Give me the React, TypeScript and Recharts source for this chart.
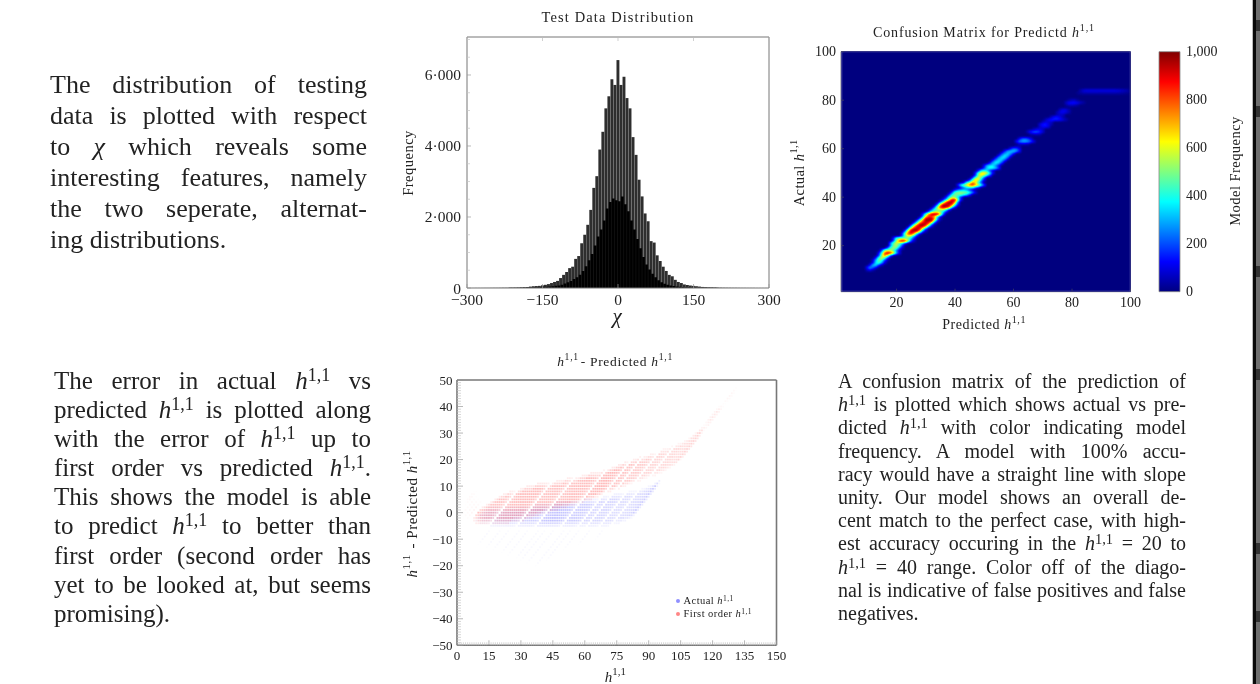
import React from 'react';
import { Bar, BarChart, Legend, Scatter, ScatterChart, XAxis, YAxis } from 'recharts';

// ---- histogram: chi bins, two alternating distributions
const chiBins = [
  -300, -294, -288, -282, -276, -270, -264, -258, -252, -246, -240, -234, -228, -222, -216, -210, -204,
  -198, -192, -186, -180, -174, -168, -162, -156, -150, -144, -138, -132, -126, -120, -114, -108, -102,
  -96, -90, -84, -78, -72, -66, -60, -54, -48, -42, -36, -30, -24, -18, -12, -6, 0,
  6, 12, 18, 24, 30, 36, 42, 48, 54, 60, 66, 72, 78, 84, 90, 96, 102,
  108, 114, 120, 126, 132, 138, 144, 150, 156, 162, 168, 174, 180, 186, 192, 198, 204,
  210, 216, 222, 228, 234, 240, 246, 252, 258, 264, 270, 276, 282, 288, 294, 300,
];
const tallCounts = [
  1, 1, 1, 2, 2, 2, 3, 3, 4, 5, 5, 6, 8, 8, 10, 10, 12,
  15, 20, 25, 30, 40, 50, 55, 60, 75, 90, 110, 140, 170, 200, 280, 370, 450,
  560, 600, 820, 900, 1260, 1500, 1780, 2200, 2820, 3150, 3900, 4400, 5060, 5400, 5880, 5720, 6420,
  5720, 5950, 5350, 5060, 4250, 3750, 3050, 2580, 2100, 1880, 1320, 1280, 920, 760, 600, 480, 370,
  330, 230, 170, 140, 100, 85, 70, 60, 50, 40, 30, 25, 20, 18, 15, 12, 10,
  8, 7, 6, 5, 5, 4, 3, 3, 2, 2, 2, 1, 1, 1, 1, 1,
];
const chiShortBins = [
  -297, -291, -285, -279, -273, -267, -261, -255, -249, -243, -237, -231, -225, -219, -213, -207, -201,
  -195, -189, -183, -177, -171, -165, -159, -153, -147, -141, -135, -129, -123, -117, -111, -105, -99,
  -93, -87, -81, -75, -69, -63, -57, -51, -45, -39, -33, -27, -21, -15, -9, -3, 3,
  9, 15, 21, 27, 33, 39, 45, 51, 57, 63, 69, 75, 81, 87, 93, 99, 105,
  111, 117, 123, 129, 135, 141, 147, 153, 159, 165, 171, 177, 183, 189, 195, 201, 207,
  213, 219, 225, 231, 237, 243, 249, 255, 261, 267, 273, 279, 285, 291, 297, 303,
];
const shortCounts = [
  0, 0, 0, 1, 1, 1, 1, 1, 2, 2, 2, 3, 3, 3, 4, 4, 5,
  6, 8, 10, 12, 15, 18, 22, 28, 32, 38, 45, 52, 60, 72, 95, 125, 165,
  200, 250, 300, 370, 480, 610, 780, 960, 1200, 1450, 1650, 1900, 2240, 2420, 2520, 2470, 2440,
  2580, 2360, 2160, 1900, 1650, 1380, 1120, 870, 660, 520, 400, 300, 220, 165, 120, 90, 72,
  55, 45, 36, 28, 22, 18, 14, 12, 10, 8, 7, 6, 5, 4, 4, 3, 3,
  3, 2, 2, 2, 1, 1, 1, 1, 1, 1, 0, 0, 0, 0, 0, 0,
];
const chiTicks = [-300, -150, 0, 150, 300];
const freqTicks = [0, 500, 1000, 1500, 2000, 2500, 3000, 3500, 4000, 4500, 5000, 5500, 6000, 6500, 7000];
const freqLabels: Record<number, string> = { 0: '0', 2000: '2·000', 4000: '4·000', 6000: '6·000' };

// ---- confusion matrix: one row per actual value, frequencies from heatStart[i] predicted upwards
const heatActual = [
  10, 11, 12, 13, 14, 15, 16, 17, 18, 19, 20, 21, 22, 23, 24, 25, 26, 27, 28, 29, 30, 31, 32, 33, 34, 35,
  36, 37, 38, 39, 40, 41, 42, 43, 44, 45, 46, 47, 48, 49, 50, 51, 52, 53, 54, 55, 56, 57, 58, 59, 60, 61,
  62, 63, 64, 66, 67, 68, 69, 70, 71, 72, 73, 74, 75, 76, 78, 79, 80, 83, 84,
];
const heatStart = [
  10, 10, 11, 12, 12, 13, 14, 14, 15, 17, 18, 18, 19, 19, 22, 22, 23, 24, 25, 26, 27, 28, 29, 29, 31, 32,
  33, 34, 35, 36, 37, 38, 39, 40, 42, 41, 43, 45, 46, 47, 47, 48, 50, 50, 52, 53, 54, 55, 56, 57, 59, 61,
  62, 61, 62, 66, 65, 67, 69, 69, 70, 71, 73, 75, 75, 76, 78, 78, 79, 82, 83,
];
const heatValues = [
  [80, 120, 50], [150, 300, 230, 110], [130, 340, 370, 190, 60], [130, 380, 470, 300, 100],
  [100, 340, 520, 440, 190, 60], [150, 460, 640, 470, 170], [190, 560, 800, 600, 210],
  [130, 440, 860, 1000, 940, 690, 340, 120], [210, 540, 660, 600, 470, 240, 90], [230, 470, 540, 460, 220, 70],
  [260, 500, 560, 420, 160], [280, 520, 600, 500, 340, 140], [200, 540, 840, 1000, 950, 600, 240, 80],
  [170, 440, 540, 560, 520, 490, 340, 140], [190, 460, 600, 560, 340, 130], [170, 560, 880, 940, 780, 380, 120],
  [240, 700, 1000, 1000, 980, 660, 260, 70], [280, 780, 1000, 1000, 960, 580, 200],
  [310, 720, 980, 1000, 1000, 780, 340, 110], [290, 640, 960, 1000, 1000, 800, 320, 90],
  [270, 640, 900, 1000, 1000, 880, 360, 100], [250, 620, 980, 1000, 1000, 780, 300, 70],
  [270, 720, 900, 860, 700, 340, 100], [150, 440, 780, 960, 1000, 1000, 660, 220],
  [200, 460, 560, 540, 500, 340, 150], [190, 420, 540, 560, 620, 430, 170],
  [170, 540, 900, 1000, 1000, 900, 460, 160], [210, 680, 1000, 1000, 1000, 900, 480, 160],
  [180, 460, 840, 1000, 1000, 780, 260], [140, 360, 660, 980, 1000, 580, 170], [140, 400, 540, 520, 380, 160],
  [160, 440, 520, 500, 480, 420, 320, 160], [190, 500, 560, 580, 540, 520, 440, 290, 110],
  [130, 240, 300, 340, 280, 160, 80], [110, 220, 340, 380, 360, 240, 130],
  [140, 400, 560, 660, 800, 860, 740, 600, 420, 190], [110, 380, 600, 800, 680, 400, 180],
  [160, 480, 700, 580, 300, 110], [170, 500, 640, 460, 180], [180, 520, 640, 520, 340, 180],
  [140, 440, 660, 700, 600, 380, 140], [130, 340, 420, 360, 190, 80], [170, 350, 420, 410, 350, 190],
  [130, 310, 400, 390, 260, 120], [170, 340, 400, 320, 160], [180, 340, 390, 310, 150], [170, 330, 390, 330, 170],
  [160, 310, 380, 310, 150], [170, 310, 360, 290, 150], [140, 270, 330, 340, 290, 150], [120, 220, 230, 130],
  [50, 50], [60, 80, 80, 60], [130, 250, 310, 320, 290, 220, 100], [120, 230, 250, 210, 120], [50, 60, 70, 60],
  [80, 170, 240, 240, 180, 100], [60, 100, 110, 70], [70, 110, 120, 90], [90, 160, 170, 110, 50], [60, 100, 90, 70],
  [60, 120, 160, 170, 160, 140, 100, 50], [80, 140, 150, 110, 50], [60, 70, 60], [60, 110, 120, 100, 50],
  [70, 110, 100, 50], [30, 70, 70, 60, 30], [70, 130, 150, 150, 120, 70, 40], [40, 70, 70, 30],
  [25, 40, 50, 50, 50, 50, 50, 50, 50, 50, 50, 50, 50, 50, 50, 40, 30, 25],
  [50, 90, 105, 105, 105, 105, 105, 105, 105, 105, 105, 105, 105, 95, 80, 65, 50],
];
const heatTicks = [20, 40, 60, 80, 100];
const barTicks = [0, 200, 400, 600, 800, 1000];

// ---- error plot: runs of [predicted, error from, error to, density] on the integer grid
const actualRuns = [
  [12, -3, 1, 0.2], [13, -3, 2, 0.2], [14, -3, 2, 0.22], [15, -4, 2, 0.24], [16, -4, 2, 0.24], [17, -4, 2, 0.24], [18, -4, 2, 0.22], [19, -4, 2, 0.16],
  [21, -5, 2, 0.28], [22, -5, 2, 0.3], [23, -5, 2, 0.3], [24, -5, 2, 0.32], [25, -5, 2, 0.32], [26, -5, 2, 0.32], [27, -5, 2, 0.32], [28, -5, 2, 0.34], [29, -5, 2, 0.34], [30, -5, 2, 0.34], [31, -5, 2, 0.32], [32, -5, 2, 0.24],
  [34, -5, 3, 0.36], [35, -5, 3, 0.38], [36, -5, 3, 0.4], [37, -5, 3, 0.4], [38, -5, 3, 0.42], [39, -5, 3, 0.42], [40, -5, 3, 0.4], [41, -5, 3, 0.3],
  [43, -5, 4, 0.46], [44, -5, 4, 0.5], [45, -5, 4, 0.52], [46, -5, 4, 0.52], [47, -5, 4, 0.54], [48, -5, 4, 0.54], [49, -5, 4, 0.52], [50, -5, 4, 0.52], [51, -5, 4, 0.5], [52, -5, 4, 0.46], [53, -5, 4, 0.34],
  [55, -5, 5, 0.42], [56, -5, 5, 0.44], [57, -5, 5, 0.44], [58, -5, 5, 0.44], [59, -5, 5, 0.42], [60, -5, 5, 0.4], [61, -5, 5, 0.3],
  [63, -5, 6, 0.36], [64, -5, 6, 0.36], [65, -5, 6, 0.3], [67, -5, 7, 0.36], [68, -5, 7, 0.36], [69, -5, 7, 0.36], [70, -5, 7, 0.34], [71, -5, 7, 0.26],
  [73, -5, 8, 0.3], [74, -5, 8, 0.3], [75, -5, 8, 0.3], [76, -5, 8, 0.24], [78, -4, 9, 0.28], [79, -4, 9, 0.3], [80, -4, 10, 0.3],
  [81, -3, 10, 0.32], [82, -3, 11, 0.36], [83, -2, 12, 0.44], [84, -2, 11, 0.2],
  [22, -12, -6, 0.05], [27, -13, -6, 0.05], [31, -14, -6, 0.05], [36, -15, -6, 0.05], [40, -16, -6, 0.05], [45, -17, -6, 0.05], [48, -18, -6, 0.05], [52, -19, -6, 0.05], [57, -20, -6, 0.05], [60, -18, -6, 0.05], [64, -14, -6, 0.05], [69, -12, -6, 0.05], [75, -10, -6, 0.05],
];
const firstOrderRuns = [
  [0, 4, 8, 0.05], [1, 3, 8, 0.05], [3, -1, 6, 0.04], [5, -2, 5, 0.05], [7, -2, 4, 0.08],
  [10, -2, 2, 0.5], [11, -3, 3, 0.42], [12, -3, 4, 0.42], [13, -4, 5, 0.44], [14, -4, 6, 0.46], [15, -4, 7, 0.48], [16, -4, 7, 0.48], [17, -4, 8, 0.48], [18, -4, 8, 0.42], [19, -4, 8, 0.3],
  [21, -4, 9, 0.42], [22, -4, 9, 0.5], [23, -4, 10, 0.52], [24, -4, 10, 0.52], [25, -4, 10, 0.52], [26, -4, 10, 0.52], [27, -4, 11, 0.54], [28, -4, 11, 0.54], [29, -3, 11, 0.54], [30, -3, 11, 0.54], [31, -3, 11, 0.5], [32, -3, 11, 0.34],
  [34, -3, 11, 0.46], [35, -2, 12, 0.48], [36, -2, 12, 0.48], [37, -2, 12, 0.5], [38, -1, 12, 0.5], [39, -1, 13, 0.5], [40, 0, 13, 0.46], [41, 0, 13, 0.34],
  [43, 0, 13, 0.46], [44, 1, 13, 0.48], [45, 1, 14, 0.5], [46, 1, 14, 0.5], [47, 2, 14, 0.52], [48, 2, 15, 0.52], [49, 2, 15, 0.52], [50, 3, 15, 0.52], [51, 3, 15, 0.5], [52, 3, 15, 0.46], [53, 4, 16, 0.34],
  [55, 4, 16, 0.52], [56, 5, 17, 0.54], [57, 5, 17, 0.56], [58, 5, 18, 0.56], [59, 6, 18, 0.54], [60, 6, 19, 0.5], [61, 7, 19, 0.36],
  [63, 8, 20, 0.46], [64, 8, 20, 0.46], [65, 9, 21, 0.36], [67, 9, 21, 0.4], [68, 10, 21, 0.4], [69, 10, 22, 0.4], [70, 11, 22, 0.38], [71, 11, 22, 0.28],
  [73, 12, 24, 0.32], [74, 12, 24, 0.32], [75, 13, 24, 0.32], [76, 13, 25, 0.24], [78, 14, 26, 0.28], [79, 14, 26, 0.3], [80, 15, 27, 0.3],
  [81, 15, 28, 0.26], [82, 16, 30, 0.26], [83, 17, 32, 0.28], [84, 18, 32, 0.34], [85, 20, 30, 0.22],
  [83, 33, 40, 0.1], [84, 33, 40, 0.18], [84, 41, 47, 0.07], [85, 31, 40, 0.1], [85, 41, 46, 0.04],
];
const errorXLabels = [0, 15, 30, 45, 60, 75, 90, 105, 120, 135, 150];
const errorYLabels = [-50, -40, -30, -20, -10, 0, 10, 20, 30, 40, 50];
const errorXTicks = [
  0, 1, 2, 3, 4, 5, 6, 7, 8, 9, 10, 11, 12, 13, 14, 15, 16, 17, 18, 19, 20, 21, 22, 23, 24, 25, 26, 27, 28, 29,
  30, 31, 32, 33, 34, 35, 36, 37, 38, 39, 40, 41, 42, 43, 44, 45, 46, 47, 48, 49, 50, 51, 52, 53, 54, 55, 56, 57, 58, 59,
  60, 61, 62, 63, 64, 65, 66, 67, 68, 69, 70, 71, 72, 73, 74, 75, 76, 77, 78, 79, 80, 81, 82, 83, 84, 85, 86, 87, 88, 89,
  90, 91, 92, 93, 94, 95, 96, 97, 98, 99, 100, 101, 102, 103, 104, 105, 106, 107, 108, 109, 110, 111, 112, 113, 114, 115, 116, 117, 118, 119,
  120, 121, 122, 123, 124, 125, 126, 127, 128, 129, 130, 131, 132, 133, 134, 135, 136, 137, 138, 139, 140, 141, 142, 143, 144, 145, 146, 147, 148, 149, 150,
];
const errorYTicks = [
  -50, -49, -48, -47, -46, -45, -44, -43, -42, -41, -40, -39, -38, -37, -36, -35, -34, -33, -32, -31, -30, -29, -28, -27, -26, -25, -24, -23, -22, -21,
  -20, -19, -18, -17, -16, -15, -14, -13, -12, -11, -10, -9, -8, -7, -6, -5, -4, -3, -2, -1, 0, 1, 2, 3, 4, 5, 6, 7, 8, 9,
  10, 11, 12, 13, 14, 15, 16, 17, 18, 19, 20, 21, 22, 23, 24, 25, 26, 27, 28, 29, 30, 31, 32, 33, 34, 35, 36, 37, 38, 39,
  40, 41, 42, 43, 44, 45, 46, 47, 48, 49, 50,
];
const stripBands = [20, 106, 266, 369, 543, 611];

const histRows = chiBins.map((chi, i) => ({
  chi,
  tall: tallCounts[i],
  chiShort: chiShortBins[i],
  short: shortCounts[i],
}));

const heatCells = heatActual.flatMap((actual, i) =>
  heatValues[i].map((value, j) => ({ predicted: heatStart[i] + j, actual, value })),
);

// a run covers every integer error between its ends, thinning out towards them
const expandRuns = (runs: number[][]) =>
  runs.flatMap(([predicted, from, to, density]) => {
    const points = [];
    for (let error = from; error <= to; error++) {
      const edge = Math.min((error - from + 1) / 3, (to - error + 1) / 3, 1);
      points.push({ h11: predicted + error, error, density: density * edge });
    }
    return points;
  });

const SERIF = "'Liberation Serif', serif";
const TEXT = '#222';

type Side = 'left' | 'right' | 'top' | 'bottom';

// axis tick drawn inwards, label only where labelOf gives one
const makeTick =
  (side: Side, size: number, gap: number, labelOf: (v: number) => string | null, isMajor: (v: number) => boolean, majorLen: number, minorLen: number, stroke: string, minorStroke = '#c4c4c4') =>
  (props: any) => {
    const { x, y, payload } = props;
    const label = labelOf(payload.value);
    const major = isMajor(payload.value);
    const len = major ? majorLen : minorLen;
    const line =
      side === 'left' ? [x, y, x + len, y] :
      side === 'right' ? [x - len, y, x, y] :
      side === 'bottom' ? [x, y - len, x, y] : [x, y, x, y + len];
    return (
      <g>
        <line x1={line[0]} y1={line[1]} x2={line[2]} y2={line[3]} stroke={major ? stroke : minorStroke} strokeWidth={0.7} />
        {label !== null && side === 'left' && (
          <text x={x - gap} y={y} textAnchor="end" dominantBaseline="central" fontSize={size} fontFamily={SERIF} fill={TEXT}>{label}</text>
        )}
        {label !== null && side === 'bottom' && (
          <text x={x} y={y + gap} textAnchor="middle" dominantBaseline="central" fontSize={size} fontFamily={SERIF} fill={TEXT}>{label}</text>
        )}
      </g>
    );
  };

const noLabel = () => null;
const always = () => true;
const signed = (v: number) => (v < 0 ? `−${-v}` : `${v}`);
const isFreqMajor = (v: number) => v in freqLabels;
const isErrorXMajor = (v: number) => errorXLabels.includes(v);
const isErrorYMajor = (v: number) => errorYLabels.includes(v);

// chart text, optional h^{1,1} pieces around the plain part
const ChartText = ({ x, y, size, rotate, text, math = false, mathFirst = false, spacing = 0 }: any) => {
  const sup = (
    <>
      <tspan fontStyle="italic">h</tspan>
      <tspan dy={-size * 0.38} fontSize={size * 0.72}>1,1</tspan>
      <tspan dy={size * 0.38}>{'\u200a'}</tspan>
    </>
  );
  return (
    <text
      x={x}
      y={y}
      textAnchor="middle"
      dominantBaseline="central"
      fontSize={size}
      fontFamily={SERIF}
      fill={TEXT}
      letterSpacing={spacing}
      transform={rotate ? `rotate(${rotate} ${x} ${y})` : undefined}
    >
      {mathFirst && sup}
      <tspan>{text}</tspan>
      {math && sup}
    </text>
  );
};

const HistogramChart = () => (
  <div style={{ position: 'absolute', left: 400, top: 0 }}>
    <BarChart width={395} height={335} data={histRows} margin={{ top: 0, right: 0, bottom: 0, left: 0 }}>
      <XAxis
        xAxisId="tall" dataKey="chi" type="number" domain={[-300, 300]} ticks={chiTicks} interval={0} height={47}
        tickSize={0} tickMargin={0} tickLine={false} axisLine={{ stroke: '#777', strokeWidth: 1 }}
        tick={makeTick('bottom', 15.5, 11, signed, always, 4, 4, '#999')}
      />
      <XAxis xAxisId="short" dataKey="chiShort" type="number" domain={[-300, 300]} allowDataOverflow height={0} hide />
      <XAxis
        xAxisId="top" dataKey="chi" type="number" orientation="top" domain={[-300, 300]} ticks={chiTicks} interval={0} height={37}
        tickSize={0} tickMargin={0} tickLine={false} axisLine={{ stroke: '#777', strokeWidth: 1 }}
        tick={makeTick('top', 15, 0, noLabel, always, 4, 4, '#bbb')}
      />
      <YAxis
        yAxisId="left" type="number" domain={[0, 7070]} ticks={freqTicks} interval={0} width={67}
        tickSize={0} tickMargin={0} tickLine={false} axisLine={{ stroke: '#777', strokeWidth: 1 }}
        tick={makeTick('left', 15.5, 6, (v) => freqLabels[v] ?? null, isFreqMajor, 4, 3, '#999')}
      />
      <YAxis
        yAxisId="right" type="number" orientation="right" domain={[0, 7070]} ticks={freqTicks} interval={0} width={26}
        tickSize={0} tickMargin={0} tickLine={false} axisLine={{ stroke: '#777', strokeWidth: 1 }}
        tick={makeTick('right', 15, 0, noLabel, isFreqMajor, 4, 3, '#bbb')}
      />
      <Bar xAxisId="tall" yAxisId="left" dataKey="tall" barSize={2.9} fill="#2e2e2e" isAnimationActive={false} />
      <Bar xAxisId="short" yAxisId="left" dataKey="short" barSize={4} fill="#000" isAnimationActive={false} />
      <ChartText x={218} y={17} size={14.5} text="Test Data Distribution" spacing={1.1} />
      <ChartText x={8} y={163} size={14.5} rotate={-90} text="Frequency" spacing={0.5} />
      <text x={217} y={316} textAnchor="middle" dominantBaseline="central" fontSize={21} fontStyle="italic" fontFamily={SERIF} fill={TEXT}>χ</text>
    </BarChart>
  </div>
);

const HeatmapChart = () => (
  <div className="heat-map" style={{ position: 'absolute', left: 790, top: 15 }}>
    <ScatterChart width={360} height={320} margin={{ top: 0, right: 0, bottom: 0, left: 0 }}>
      <XAxis
        xAxisId="bottom" dataKey="predicted" type="number" domain={[1, 100]} ticks={heatTicks} interval={0} height={43.3}
        tickSize={0} tickMargin={0} tickLine={false} axisLine={{ stroke: '#888', strokeWidth: 1 }}
        tick={makeTick('bottom', 14, 10.5, (v) => `${v}`, always, 3, 3, '#446')}
      />
      <XAxis
        xAxisId="top" type="number" orientation="top" domain={[1, 100]} ticks={heatTicks} interval={0} height={36.7}
        tickSize={0} tickMargin={0} tickLine={false} axisLine={{ stroke: '#888', strokeWidth: 1 }}
        tick={makeTick('top', 14, 0, noLabel, always, 3, 3, '#446')}
      />
      <YAxis
        yAxisId="left" dataKey="actual" type="number" domain={[1, 100]} ticks={heatTicks} interval={0} width={51}
        tickSize={0} tickMargin={0} tickLine={false} axisLine={{ stroke: '#888', strokeWidth: 1 }}
        tick={makeTick('left', 14, 5, (v) => `${v}`, always, 3, 3, '#446')}
      />
      <YAxis
        yAxisId="right" type="number" orientation="right" domain={[1, 100]} ticks={heatTicks} interval={0} width={19.5}
        tickSize={0} tickMargin={0} tickLine={false} axisLine={{ stroke: '#888', strokeWidth: 1 }}
        tick={makeTick('right', 14, 0, noLabel, always, 3, 3, '#446')}
      />
      <Scatter
        xAxisId="bottom"
        yAxisId="left"
        data={heatCells}
        isAnimationActive={false}
        shape={(p: any) => {
          const level = Math.round((p.payload.value / 1000) * 255);
          return <rect x={p.cx - 1.6} y={p.cy - 1.35} width={3.2} height={2.7} fill={`rgb(${level},${level},${level})`} />;
        }}
      />
      <ChartText x={195} y={17} size={14} text="Confusion Matrix for Predictd " math spacing={0.85} />
      <ChartText x={9} y={157} size={14.5} rotate={-90} text="Actual " math spacing={0.4} />
      <ChartText x={195} y={309} size={14} text="Predicted " math spacing={0.55} />
    </ScatterChart>
  </div>
);

const ColorBar = () => (
  <div style={{ position: 'absolute', left: 1140, top: 40 }}>
    <BarChart width={110} height={260} data={[{ name: 'frequency', top: 1000 }]} barCategoryGap={0} margin={{ top: 11.7, right: 0, bottom: 8.3, left: 19 }}>
      <defs>
        <linearGradient id="jetBar" x1="0" y1="1" x2="0" y2="0">
          <stop offset="0" stopColor="#000080" />
          <stop offset="0.125" stopColor="#0000ff" />
          <stop offset="0.375" stopColor="#00ffff" />
          <stop offset="0.625" stopColor="#ffff00" />
          <stop offset="0.875" stopColor="#ff0000" />
          <stop offset="1" stopColor="#800000" />
        </linearGradient>
      </defs>
      <XAxis dataKey="name" hide />
      <YAxis
        type="number" orientation="right" domain={[0, 1000]} ticks={barTicks} interval={0} width={70}
        tickSize={0} tickMargin={0} tickLine={false} axisLine={false}
        tick={(p: any) => (
          <text x={p.x + 6} y={p.y} dominantBaseline="central" fontSize={14} fontFamily={SERIF} fill={TEXT}>
            {p.payload.value === 1000 ? '1,000' : p.payload.value}
          </text>
        )}
      />
      <Bar dataKey="top" fill="url(#jetBar)" stroke="#888" strokeWidth={0.8} isAnimationActive={false} />
      <ChartText x={95} y={131} size={14.5} rotate={-90} text="Model Frequency" spacing={0.45} />
    </BarChart>
  </div>
);

const ErrorLegend = ({ payload }: any) => (
  <div style={{ fontFamily: SERIF, fontSize: 10.5, color: TEXT, letterSpacing: 0.45, lineHeight: '13px', whiteSpace: 'nowrap' }}>
    {(payload ?? []).map((entry: any) => (
      <div key={entry.value}>
        <span style={{ display: 'inline-block', width: 3.5, height: 3.5, borderRadius: 2, background: entry.color, opacity: 0.6, marginRight: 4, verticalAlign: 1.5 }} />
        {entry.value} <H11 />
      </div>
    ))}
  </div>
);

const dotShape = (fill: string) => (p: any) => (
  <rect x={p.cx - 0.9} y={p.cy - 0.9} width={1.8} height={1.8} fill={fill} fillOpacity={p.payload.density * 0.55} />
);

const ErrorChart = () => (
  <div style={{ position: 'absolute', left: 400, top: 345 }}>
    <ScatterChart width={395} height={339} margin={{ top: 0, right: 0, bottom: 0, left: 0 }}>
      <XAxis
        xAxisId="bottom" dataKey="h11" type="number" domain={[0, 150]} ticks={errorXTicks} interval={0} height={38.7}
        tickSize={0} tickMargin={0} tickLine={false} axisLine={{ stroke: '#777', strokeWidth: 1.6 }}
        tick={makeTick('bottom', 13, 10.5, (v) => (isErrorXMajor(v) ? `${v}` : null), isErrorXMajor, 5, 3, '#999')}
      />
      <XAxis
        xAxisId="top" type="number" orientation="top" domain={[0, 150]} ticks={errorXTicks} interval={0} height={35}
        tickSize={0} tickMargin={0} tickLine={false} axisLine={{ stroke: '#777', strokeWidth: 1.6 }}
        tick={makeTick('top', 13, 0, noLabel, isErrorXMajor, 5, 3, '#aaa')}
      />
      <YAxis
        yAxisId="left" dataKey="error" type="number" domain={[-50, 50]} ticks={errorYTicks} interval={0} width={57}
        tickSize={0} tickMargin={0} tickLine={false} axisLine={{ stroke: '#777', strokeWidth: 1.6 }}
        tick={makeTick('left', 13, 4.5, (v) => (isErrorYMajor(v) ? signed(v) : null), isErrorYMajor, 6, 4, '#999')}
      />
      <YAxis
        yAxisId="right" type="number" orientation="right" domain={[-50, 50]} ticks={errorYTicks} interval={0} width={18.5}
        tickSize={0} tickMargin={0} tickLine={false} axisLine={{ stroke: '#777', strokeWidth: 1.6 }}
        tick={makeTick('right', 13, 0, noLabel, isErrorYMajor, 5, 3, '#aaa')}
      />
      <Scatter name="Actual" xAxisId="bottom" yAxisId="left" data={expandRuns(actualRuns)} fill="#4444ff" isAnimationActive={false} shape={dotShape('#3333ff')} />
      <Scatter name="First order" xAxisId="bottom" yAxisId="left" data={expandRuns(firstOrderRuns)} fill="#ff3333" isAnimationActive={false} shape={dotShape('#ff2020')} />
      <Legend
        layout="horizontal"
        verticalAlign="middle"
        content={<ErrorLegend />}
        wrapperStyle={{ left: 276, top: 249, width: 100, bottom: 'auto' }}
      />
      <ChartText x={216} y={16} size={13.5} text="- Predicted " mathFirst math spacing={0.7} />
      <ChartText x={12} y={168} size={15} rotate={-90} text=" - Predicted " mathFirst math spacing={0.5} />
      <ChartText x={216} y={332} size={15} text="" math />
    </ScatterChart>
  </div>
);

// ---- prose blocks
const H11 = () => (
  <span style={{ whiteSpace: 'nowrap' }}>
    <i>h</i>
    <sup style={{ fontSize: '0.72em', lineHeight: 0, verticalAlign: '0.42em' }}>1,1</sup>
  </span>
);

const Prose = ({ left, top, width, size, pitch, lines }: any) => (
  <div style={{ position: 'absolute', left, top, width, fontFamily: SERIF, fontSize: size, lineHeight: `${pitch}px`, color: TEXT }}>
    {lines.map((line: any, i: number) => (
      <div key={i} style={{ height: pitch, textAlign: 'justify', textAlignLast: i === lines.length - 1 ? 'left' : 'justify' }}>
        {line}
      </div>
    ))}
  </div>
);

const distributionLines = [
  'The distribution of testing',
  'data is plotted with respect',
  <>to <i>χ</i> which reveals some</>,
  'interesting features, namely',
  'the two seperate, alternat-',
  'ing distributions.',
];
const errorLines = [
  <>The error in actual <H11 /> vs</>,
  <>predicted <H11 /> is plotted along</>,
  <>with the error of <H11 /> up to</>,
  <>first order vs predicted <H11 />.</>,
  'This shows the model is able',
  <>to predict <H11 /> to better than</>,
  'first order (second order has',
  'yet to be looked at, but seems',
  'promising).',
];
const matrixLines = [
  'A confusion matrix of the prediction of',
  <><H11 /> is plotted which shows actual vs pre-</>,
  <>dicted <H11 /> with color indicating model</>,
  'frequency.  A model with 100% accu-',
  'racy would have a straight line with slope',
  'unity.  Our model shows an overall de-',
  'cent match to the perfect case, with high-',
  <>est accuracy occuring in the <H11 /> = 20 to</>,
  <><H11 /> = 40 range.  Color off of the diago-</>,
  'nal is indicative of false positives and false',
  'negatives.',
];

export default function App() {
  return (
    <div style={{ position: 'absolute', left: 0, top: 0, width: 1260, height: 684, overflow: 'hidden', background: '#fff', filter: 'blur(0.4px)' }}>
      <style>{`.heat-map .recharts-scatter { filter: url(#jetInterp); } svg.recharts-surface { overflow: visible; }`}</style>
      <svg width="0" height="0" style={{ position: 'absolute' }}>
        <defs>
          <filter id="jetInterp" filterUnits="userSpaceOnUse" x="51" y="36.7" width="289.5" height="240" colorInterpolationFilters="sRGB">
            <feFlood floodColor="#000" result="base" />
            <feMerge result="flat">
              <feMergeNode in="base" />
              <feMergeNode in="SourceGraphic" />
            </feMerge>
            <feGaussianBlur in="flat" stdDeviation="1.1 0.95" />
            <feComponentTransfer>
              <feFuncR type="table" tableValues="0 0 0 0 0.5 1 1 1 0.5" />
              <feFuncG type="table" tableValues="0 0 0.5 1 1 1 0.5 0 0" />
              <feFuncB type="table" tableValues="0.5 1 1 1 0.5 0 0 0 0" />
            </feComponentTransfer>
          </filter>
        </defs>
      </svg>
      <Prose left={50} top={69} width={317} size={26} pitch={31} lines={distributionLines} />
      <Prose left={54} top={366} width={317} size={25} pitch={29.1} lines={errorLines} />
      <Prose left={838} top={370} width={348} size={20} pitch={23.2} lines={matrixLines} />
      <HistogramChart />
      <HeatmapChart />
      <ColorBar />
      <ErrorChart />
      <div style={{ position: 'absolute', left: 1252, top: 0, width: 1, height: 684, background: '#bbb' }} />
      <div style={{ position: 'absolute', left: 1253, top: 0, width: 3, height: 684, background: '#0a0a0a' }} />
      <div style={{ position: 'absolute', left: 1256, top: 0, width: 4, height: 684, background: '#6f6f6f' }} />
      {stripBands.map((y) => (
        <div key={y} style={{ position: 'absolute', left: 1256, top: y, width: 4, height: 11, background: '#333' }} />
      ))}
    </div>
  );
}
